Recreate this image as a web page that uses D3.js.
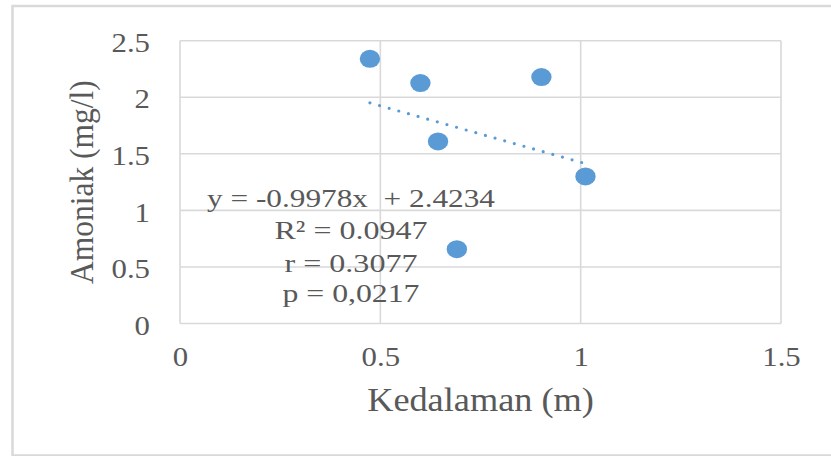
<!DOCTYPE html>
<html>
<head>
<meta charset="utf-8">
<script src="https://cdn.jsdelivr.net/npm/d3@7/dist/d3.min.js"></script>
<style>
  html, body { margin: 0; padding: 0; background: #fff; }
  svg { display: block; }
  text { font-family: "Liberation Serif", "Times New Roman", serif; fill: #595959; }
</style>
</head>
<body>
<svg id="chart" width="831" height="456"></svg>
<script>
// Depth (m) vs ammonia (mg/l) measurements
const depth = [0.474, 0.600, 0.644, 0.691, 0.902, 1.012];
const ammonia = [2.34, 2.125, 1.61, 0.657, 2.178, 1.30];

// Linear fit and statistics as reported
const slope = -0.9978;
const intercept = 2.4234;
const statLines = ["y = -0.9978x  + 2.4234", "R² = 0.0947", "r = 0.3077", "p = 0,0217"];

const xTicks = [0, 0.5, 1, 1.5];
const yTicks = [0, 0.5, 1, 1.5, 2, 2.5];
const xTitle = "Kedalaman (m)";
const yTitle = "Amoniak (mg/l)";

const svg = d3.select("#chart");
const plot = { left: 180, right: 781, top: 40.7, bottom: 323.5 };
const stretch = 1.1;
const grid = "#d9d9d9";
const blue = "#5B9BD5";

// Chart area frame
svg.append("rect")
  .attr("x", 12.5).attr("y", 6)
  .attr("width", 830).attr("height", 449.5)
  .attr("fill", "#fff").attr("stroke", grid).attr("stroke-width", 2.5);

const x = d3.scaleLinear().domain([0, 1.5]).range([plot.left, plot.right]);
const y = d3.scaleLinear().domain([0, 2.5]).range([plot.bottom, plot.top]);

// Gridlines
const g = svg.append("g");
g.selectAll("line.h").data(yTicks).join("line")
  .attr("x1", plot.left).attr("x2", plot.right)
  .attr("y1", d => y(d)).attr("y2", d => y(d))
  .attr("stroke", grid).attr("stroke-width", 1.6);
g.selectAll("line.v").data(xTicks).join("line")
  .attr("y1", plot.top).attr("y2", plot.bottom)
  .attr("x1", d => x(d)).attr("x2", d => x(d))
  .attr("stroke", grid).attr("stroke-width", 1.6);

// Axes (labels only)
const xAxis = svg.append("g")
  .attr("transform", `translate(0,${plot.bottom})`)
  .call(d3.axisBottom(x).tickValues(xTicks).tickSize(0).tickPadding(0).tickFormat(d3.format("")));
xAxis.select(".domain").remove();
xAxis.selectAll("text")
  .attr("y", 42.5).attr("dy", 0)
  .attr("font-size", 28)
  .attr("transform", `scale(${stretch},1)`)
  .style("font-family", "Liberation Serif").attr("fill", "#595959");

const yAxis = svg.append("g")
  .attr("transform", `translate(${plot.left},0)`)
  .call(d3.axisLeft(y).tickValues(yTicks).tickSize(0).tickFormat(d3.format("")));
yAxis.select(".domain").remove();
yAxis.selectAll("text")
  .attr("x", -30 / stretch).attr("dy", "0.38em")
  .attr("font-size", 28)
  .attr("transform", `scale(${stretch},1)`)
  .style("font-family", "Liberation Serif").attr("fill", "#595959");

// Trendline across the observed depth range
const [xmin, xmax] = d3.extent(depth);
svg.append("line")
  .attr("x1", x(xmin)).attr("y1", y(slope * xmin + intercept))
  .attr("x2", x(xmax)).attr("y2", y(slope * xmax + intercept))
  .attr("stroke", blue).attr("stroke-width", 3.2)
  .attr("stroke-linecap", "round").attr("stroke-dasharray", "0,10");

// Data points
svg.selectAll("ellipse.pt").data(depth.map((d, i) => [d, ammonia[i]])).join("ellipse")
  .attr("cx", d => x(d[0])).attr("cy", d => y(d[1]))
  .attr("rx", 10.2).attr("ry", 9)
  .attr("fill", blue);

// Regression statistics
const statWidths = [288, 153, 133, 137];
const statY = [206.7, 239.3, 271.7, 301.7];
svg.append("g").selectAll("text").data(statLines).join("text")
  .attr("x", (d, i) => 351 - statWidths[i] / 2)
  .attr("y", (d, i) => statY[i])
  .attr("font-size", 26)
  .attr("textLength", (d, i) => statWidths[i])
  .attr("lengthAdjust", "spacingAndGlyphs")
  .style("white-space", "pre")
  .text(d => d);

// Axis titles
svg.append("text")
  .attr("transform", `translate(${(plot.left + plot.right) / 2},410.7) scale(${stretch},1)`)
  .attr("text-anchor", "middle")
  .attr("font-size", 33)
  .text(xTitle);

svg.append("text")
  .attr("transform", `translate(93,${(plot.top + plot.bottom) / 2}) scale(${stretch},1) rotate(-90)`)
  .attr("text-anchor", "middle")
  .attr("font-size", 31.5)
  .text(yTitle);
</script>
</body>
</html>
